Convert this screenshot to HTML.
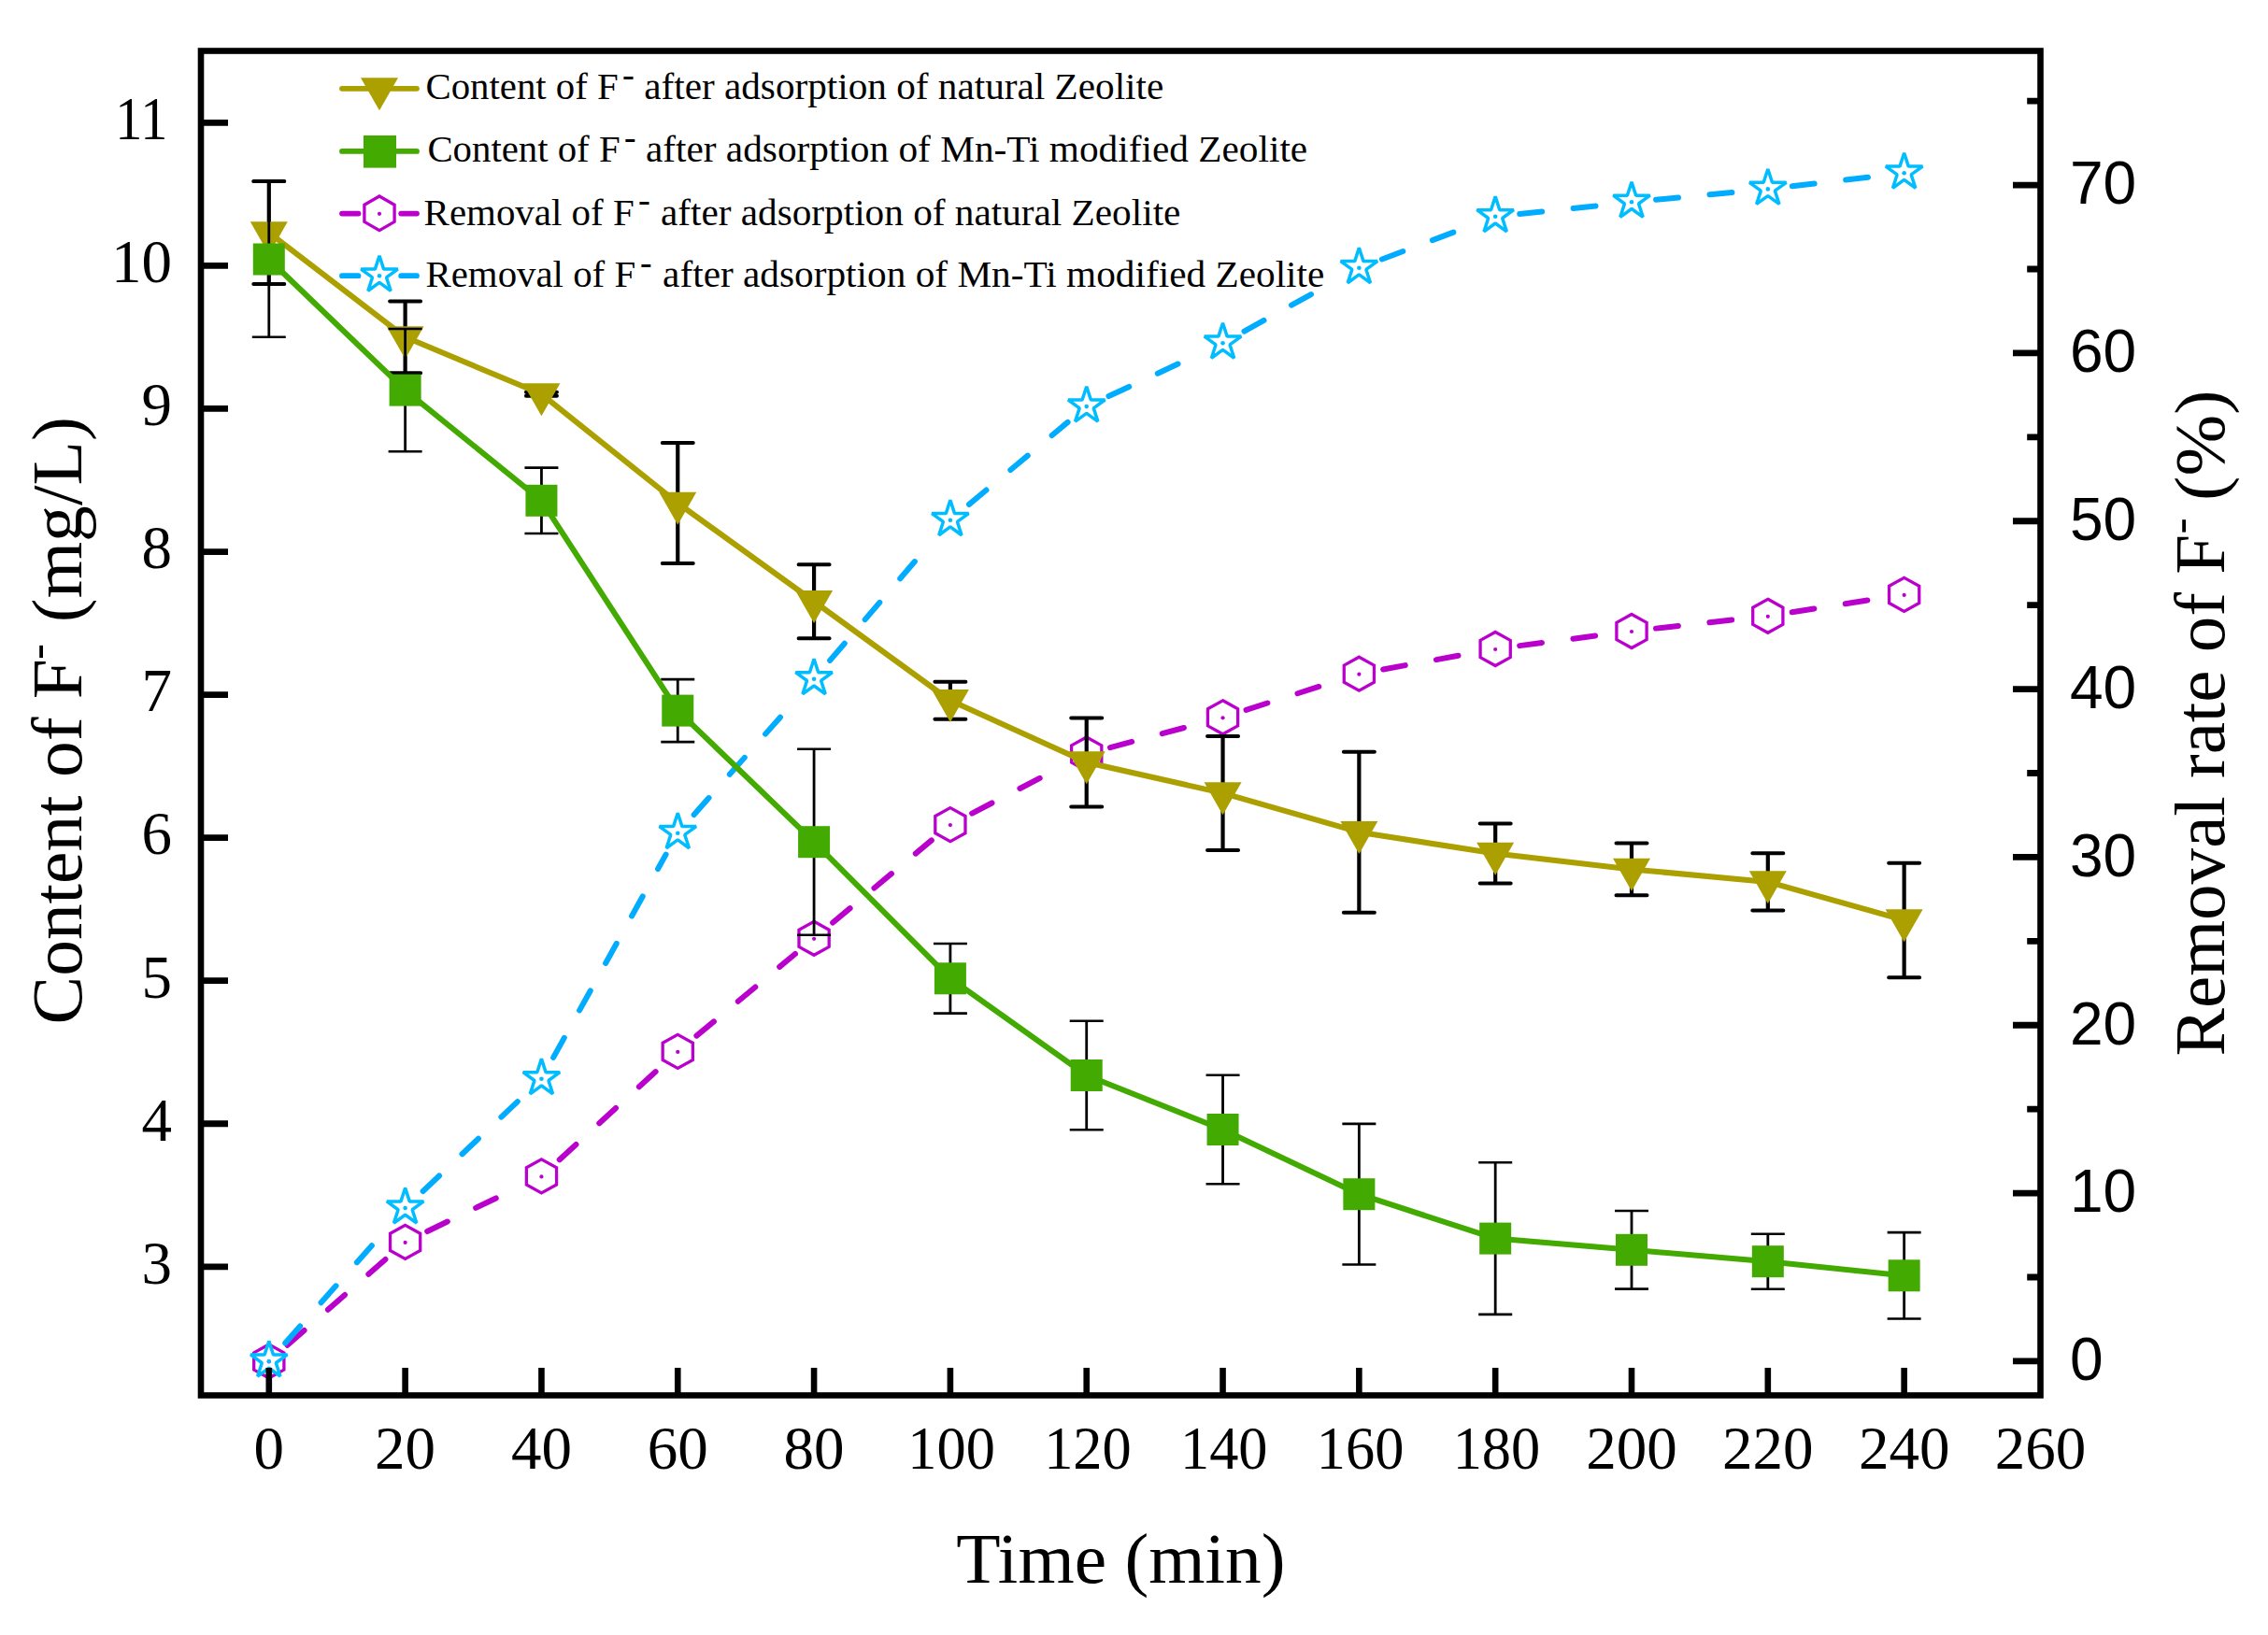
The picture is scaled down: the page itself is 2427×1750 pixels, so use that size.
<!DOCTYPE html>
<html lang="en">
<head>
<meta charset="utf-8">
<title>Fluoride adsorption on natural and Mn-Ti modified zeolite</title>
<style>html,body{margin:0;padding:0;background:#fff;overflow:hidden;width:2427px;height:1750px}svg{display:block}</style>
</head>
<body>
<svg width="2427" height="1750" viewBox="0 0 2427 1750">
<rect width="2427" height="1750" fill="#fff"/>
<g id="s3">
<path d="M307.52 1439.75L413.9 1346.65M457.21 1318L555.85 1270.3M598.76 1241.21L705.94 1143.09M745.42 1108.66L850.92 1021.04M891.19 987.51L996.79 899.39M1040.16 870.54L1139.46 819.06M1188.02 800.2L1283.24 774.6M1333.5 759.82L1429.4 729.18M1480.13 716.48L1574.41 699.22M1626.16 691.11L1720.02 678.89M1772.04 672.61L1865.78 662.19M1917.7 655.24L2011.76 640.46" fill="none" stroke="#BA00CC" stroke-width="6" stroke-linecap="round" stroke-dasharray="24 33.7"/>
<polygon points="287.8,1439 303.9,1447.9 303.9,1466.1 287.8,1475 271.7,1466.1 271.7,1447.9" fill="none" stroke="#BA00CC" stroke-width="3.3" stroke-linejoin="miter"/>
<circle cx="287.8" cy="1457.5" r="2.1" fill="#BA00CC"/>
<polygon points="433.62,1311.4 449.72,1320.3 449.72,1338.5 433.62,1347.4 417.52,1338.5 417.52,1320.3" fill="none" stroke="#BA00CC" stroke-width="3.3" stroke-linejoin="miter"/>
<circle cx="433.62" cy="1329.9" r="2.1" fill="#BA00CC"/>
<polygon points="579.44,1240.9 595.54,1249.8 595.54,1268 579.44,1276.9 563.34,1268 563.34,1249.8" fill="none" stroke="#BA00CC" stroke-width="3.3" stroke-linejoin="miter"/>
<circle cx="579.44" cy="1259.4" r="2.1" fill="#BA00CC"/>
<polygon points="725.26,1107.4 741.36,1116.3 741.36,1134.5 725.26,1143.4 709.16,1134.5 709.16,1116.3" fill="none" stroke="#BA00CC" stroke-width="3.3" stroke-linejoin="miter"/>
<circle cx="725.26" cy="1125.9" r="2.1" fill="#BA00CC"/>
<polygon points="871.08,986.3 887.18,995.2 887.18,1013.4 871.08,1022.3 854.98,1013.4 854.98,995.2" fill="none" stroke="#BA00CC" stroke-width="3.3" stroke-linejoin="miter"/>
<circle cx="871.08" cy="1004.8" r="2.1" fill="#BA00CC"/>
<polygon points="1016.9,864.6 1033,873.5 1033,891.7 1016.9,900.6 1000.8,891.7 1000.8,873.5" fill="none" stroke="#BA00CC" stroke-width="3.3" stroke-linejoin="miter"/>
<circle cx="1016.9" cy="883.1" r="2.1" fill="#BA00CC"/>
<polygon points="1162.72,789 1178.82,797.9 1178.82,816.1 1162.72,825 1146.62,816.1 1146.62,797.9" fill="none" stroke="#BA00CC" stroke-width="3.3" stroke-linejoin="miter"/>
<circle cx="1162.72" cy="807.5" r="2.1" fill="#BA00CC"/>
<polygon points="1308.54,749.8 1324.64,758.7 1324.64,776.9 1308.54,785.8 1292.44,776.9 1292.44,758.7" fill="none" stroke="#BA00CC" stroke-width="3.3" stroke-linejoin="miter"/>
<circle cx="1308.54" cy="768.3" r="2.1" fill="#BA00CC"/>
<polygon points="1454.36,703.2 1470.46,712.1 1470.46,730.3 1454.36,739.2 1438.26,730.3 1438.26,712.1" fill="none" stroke="#BA00CC" stroke-width="3.3" stroke-linejoin="miter"/>
<circle cx="1454.36" cy="721.7" r="2.1" fill="#BA00CC"/>
<polygon points="1600.18,676.5 1616.28,685.4 1616.28,703.6 1600.18,712.5 1584.08,703.6 1584.08,685.4" fill="none" stroke="#BA00CC" stroke-width="3.3" stroke-linejoin="miter"/>
<circle cx="1600.18" cy="695" r="2.1" fill="#BA00CC"/>
<polygon points="1746,657.5 1762.1,666.4 1762.1,684.6 1746,693.5 1729.9,684.6 1729.9,666.4" fill="none" stroke="#BA00CC" stroke-width="3.3" stroke-linejoin="miter"/>
<circle cx="1746" cy="676" r="2.1" fill="#BA00CC"/>
<polygon points="1891.82,641.3 1907.92,650.2 1907.92,668.4 1891.82,677.3 1875.72,668.4 1875.72,650.2" fill="none" stroke="#BA00CC" stroke-width="3.3" stroke-linejoin="miter"/>
<circle cx="1891.82" cy="659.8" r="2.1" fill="#BA00CC"/>
<polygon points="2037.64,618.4 2053.74,627.3 2053.74,645.5 2037.64,654.4 2021.54,645.5 2021.54,627.3" fill="none" stroke="#BA00CC" stroke-width="3.3" stroke-linejoin="miter"/>
<circle cx="2037.64" cy="636.9" r="2.1" fill="#BA00CC"/>
</g>
<g id="s4">
<path d="M305.21 1437.42L416.21 1312.58M452.64 1274.98L560.42 1172.82M592.14 1131.88L712.56 914.62M742.62 872.07L853.72 746.43M888.13 706.91L999.85 576.59M1037.02 539.92L1142.6 451.88M1186.47 424.04L1284.79 378.26M1331.48 354.54L1431.42 299.36M1478.88 277.47L1575.66 241.03M1626.23 229.03L1719.95 219.07M1772.08 213.81L1865.74 204.89M1917.84 199.33L2011.62 188.27" fill="none" stroke="#00ACFF" stroke-width="6" stroke-linecap="round" stroke-dasharray="24 33.7"/>
<polygon points="287.8,1435.6 292.45,1449.9 307.49,1449.9 295.32,1458.74 299.97,1473.05 287.8,1464.21 275.63,1473.05 280.28,1458.74 268.11,1449.9 283.15,1449.9" fill="none" stroke="#00BDFF" stroke-width="3.5" stroke-linejoin="bevel"/>
<circle cx="287.8" cy="1457" r="2.3" fill="#00BDFF"/>
<polygon points="433.62,1271.6 438.27,1285.9 453.31,1285.9 441.14,1294.74 445.79,1309.05 433.62,1300.21 421.45,1309.05 426.1,1294.74 413.93,1285.9 428.97,1285.9" fill="none" stroke="#00BDFF" stroke-width="3.5" stroke-linejoin="bevel"/>
<circle cx="433.62" cy="1293" r="2.3" fill="#00BDFF"/>
<polygon points="579.44,1133.4 584.09,1147.7 599.13,1147.7 586.96,1156.54 591.61,1170.85 579.44,1162.01 567.27,1170.85 571.92,1156.54 559.75,1147.7 574.79,1147.7" fill="none" stroke="#00BDFF" stroke-width="3.5" stroke-linejoin="bevel"/>
<circle cx="579.44" cy="1154.8" r="2.3" fill="#00BDFF"/>
<polygon points="725.26,870.3 729.91,884.6 744.95,884.6 732.78,893.44 737.43,907.75 725.26,898.91 713.09,907.75 717.74,893.44 705.57,884.6 720.61,884.6" fill="none" stroke="#00BDFF" stroke-width="3.5" stroke-linejoin="bevel"/>
<circle cx="725.26" cy="891.7" r="2.3" fill="#00BDFF"/>
<polygon points="871.08,705.4 875.73,719.7 890.77,719.7 878.6,728.54 883.25,742.85 871.08,734.01 858.91,742.85 863.56,728.54 851.39,719.7 866.43,719.7" fill="none" stroke="#00BDFF" stroke-width="3.5" stroke-linejoin="bevel"/>
<circle cx="871.08" cy="726.8" r="2.3" fill="#00BDFF"/>
<polygon points="1016.9,535.3 1021.55,549.6 1036.59,549.6 1024.42,558.44 1029.07,572.75 1016.9,563.91 1004.73,572.75 1009.38,558.44 997.21,549.6 1012.25,549.6" fill="none" stroke="#00BDFF" stroke-width="3.5" stroke-linejoin="bevel"/>
<circle cx="1016.9" cy="556.7" r="2.3" fill="#00BDFF"/>
<polygon points="1162.72,413.7 1167.37,428 1182.41,428 1170.24,436.84 1174.89,451.15 1162.72,442.31 1150.55,451.15 1155.2,436.84 1143.03,428 1158.07,428" fill="none" stroke="#00BDFF" stroke-width="3.5" stroke-linejoin="bevel"/>
<circle cx="1162.72" cy="435.1" r="2.3" fill="#00BDFF"/>
<polygon points="1308.54,345.8 1313.19,360.1 1328.23,360.1 1316.06,368.94 1320.71,383.25 1308.54,374.41 1296.37,383.25 1301.02,368.94 1288.85,360.1 1303.89,360.1" fill="none" stroke="#00BDFF" stroke-width="3.5" stroke-linejoin="bevel"/>
<circle cx="1308.54" cy="367.2" r="2.3" fill="#00BDFF"/>
<polygon points="1454.36,265.3 1459.01,279.6 1474.05,279.6 1461.88,288.44 1466.53,302.75 1454.36,293.91 1442.19,302.75 1446.84,288.44 1434.67,279.6 1449.71,279.6" fill="none" stroke="#00BDFF" stroke-width="3.5" stroke-linejoin="bevel"/>
<circle cx="1454.36" cy="286.7" r="2.3" fill="#00BDFF"/>
<polygon points="1600.18,210.4 1604.83,224.7 1619.87,224.7 1607.7,233.54 1612.35,247.85 1600.18,239.01 1588.01,247.85 1592.66,233.54 1580.49,224.7 1595.53,224.7" fill="none" stroke="#00BDFF" stroke-width="3.5" stroke-linejoin="bevel"/>
<circle cx="1600.18" cy="231.8" r="2.3" fill="#00BDFF"/>
<polygon points="1746,194.9 1750.65,209.2 1765.69,209.2 1753.52,218.04 1758.17,232.35 1746,223.51 1733.83,232.35 1738.48,218.04 1726.31,209.2 1741.35,209.2" fill="none" stroke="#00BDFF" stroke-width="3.5" stroke-linejoin="bevel"/>
<circle cx="1746" cy="216.3" r="2.3" fill="#00BDFF"/>
<polygon points="1891.82,181 1896.47,195.3 1911.51,195.3 1899.34,204.14 1903.99,218.45 1891.82,209.61 1879.65,218.45 1884.3,204.14 1872.13,195.3 1887.17,195.3" fill="none" stroke="#00BDFF" stroke-width="3.5" stroke-linejoin="bevel"/>
<circle cx="1891.82" cy="202.4" r="2.3" fill="#00BDFF"/>
<polygon points="2037.64,163.8 2042.29,178.1 2057.33,178.1 2045.16,186.94 2049.81,201.25 2037.64,192.41 2025.47,201.25 2030.12,186.94 2017.95,178.1 2032.99,178.1" fill="none" stroke="#00BDFF" stroke-width="3.5" stroke-linejoin="bevel"/>
<circle cx="2037.64" cy="185.2" r="2.3" fill="#00BDFF"/>
</g>
<g id="s1">
<path d="M287.8 194V304M433.62 322.4V399.2M579.44 419.8V423.8M725.26 474V603M871.08 604.2V683.2M1016.9 729.7V769.7M1162.72 768.6V863.4M1308.54 787.9V909.9M1454.36 804.7V976.7M1600.18 881.4V945.6M1746 902.5V958.3M1891.82 913.3V974.5M2037.64 923.8V1046.2" fill="none" stroke="#000" stroke-width="4.2"/>
<path d="M271.3 194H304.3M271.3 304H304.3M417.12 322.4H450.12M417.12 399.2H450.12M562.94 419.8H595.94M562.94 423.8H595.94M708.76 474H741.76M708.76 603H741.76M854.58 604.2H887.58M854.58 683.2H887.58M1000.4 729.7H1033.4M1000.4 769.7H1033.4M1146.22 768.6H1179.22M1146.22 863.4H1179.22M1292.04 787.9H1325.04M1292.04 909.9H1325.04M1437.86 804.7H1470.86M1437.86 976.7H1470.86M1583.68 881.4H1616.68M1583.68 945.6H1616.68M1729.5 902.5H1762.5M1729.5 958.3H1762.5M1875.32 913.3H1908.32M1875.32 974.5H1908.32M2021.14 923.8H2054.14M2021.14 1046.2H2054.14" fill="none" stroke="#000" stroke-width="4" stroke-linecap="round"/>
<polyline points="287.8,249 433.62,360.8 579.44,421.8 725.26,538.5 871.08,643.7 1016.9,749.7 1162.72,816 1308.54,848.9 1454.36,890.7 1600.18,913.5 1746,930.4 1891.82,943.9 2037.64,985" fill="none" stroke="#ACA000" stroke-width="6" stroke-linejoin="round"/>
<polygon points="267.8,237.33 307.8,237.33 287.8,272.33" fill="#ACA000"/>
<polygon points="413.62,349.13 453.62,349.13 433.62,384.13" fill="#ACA000"/>
<polygon points="559.44,410.13 599.44,410.13 579.44,445.13" fill="#ACA000"/>
<polygon points="705.26,526.83 745.26,526.83 725.26,561.83" fill="#ACA000"/>
<polygon points="851.08,632.03 891.08,632.03 871.08,667.03" fill="#ACA000"/>
<polygon points="996.9,738.03 1036.9,738.03 1016.9,773.03" fill="#ACA000"/>
<polygon points="1142.72,804.33 1182.72,804.33 1162.72,839.33" fill="#ACA000"/>
<polygon points="1288.54,837.23 1328.54,837.23 1308.54,872.23" fill="#ACA000"/>
<polygon points="1434.36,879.03 1474.36,879.03 1454.36,914.03" fill="#ACA000"/>
<polygon points="1580.18,901.83 1620.18,901.83 1600.18,936.83" fill="#ACA000"/>
<polygon points="1726,918.73 1766,918.73 1746,953.73" fill="#ACA000"/>
<polygon points="1871.82,932.23 1911.82,932.23 1891.82,967.23" fill="#ACA000"/>
<polygon points="2017.64,973.33 2057.64,973.33 2037.64,1008.33" fill="#ACA000"/>
</g>
<g id="s2">
<path d="M287.8 194.2V360.8M433.62 352V483.2M579.44 500.6V571M725.26 727.1V794.1M871.08 801.7V1000.7M1016.9 1010V1084.6M1162.72 1092.7V1209.3M1308.54 1150.8V1267.2M1454.36 1202.9V1353.5M1600.18 1244.3V1406.9M1746 1295.95V1379.65M1891.82 1320.7V1379.7M2037.64 1319.1V1411.5" fill="none" stroke="#000" stroke-width="2.8"/>
<path d="M269.8 194.2H305.8M269.8 360.8H305.8M415.62 352H451.62M415.62 483.2H451.62M561.44 500.6H597.44M561.44 571H597.44M707.26 727.1H743.26M707.26 794.1H743.26M853.08 801.7H889.08M853.08 1000.7H889.08M998.9 1010H1034.9M998.9 1084.6H1034.9M1144.72 1092.7H1180.72M1144.72 1209.3H1180.72M1290.54 1150.8H1326.54M1290.54 1267.2H1326.54M1436.36 1202.9H1472.36M1436.36 1353.5H1472.36M1582.18 1244.3H1618.18M1582.18 1406.9H1618.18M1728 1295.95H1764M1728 1379.65H1764M1873.82 1320.7H1909.82M1873.82 1379.7H1909.82M2019.64 1319.1H2055.64M2019.64 1411.5H2055.64" fill="none" stroke="#000" stroke-width="2.6" stroke-linecap="butt"/>
<polyline points="287.8,277.5 433.62,417.6 579.44,535.8 725.26,760.6 871.08,901.2 1016.9,1047.3 1162.72,1151 1308.54,1209 1454.36,1278.2 1600.18,1325.6 1746,1337.8 1891.82,1350.2 2037.64,1365.3" fill="none" stroke="#42AA00" stroke-width="6" stroke-linejoin="round"/>
<rect x="270.8" y="260.5" width="34" height="34" fill="#42AA00"/>
<rect x="416.62" y="400.6" width="34" height="34" fill="#42AA00"/>
<rect x="562.44" y="518.8" width="34" height="34" fill="#42AA00"/>
<rect x="708.26" y="743.6" width="34" height="34" fill="#42AA00"/>
<rect x="854.08" y="884.2" width="34" height="34" fill="#42AA00"/>
<rect x="999.9" y="1030.3" width="34" height="34" fill="#42AA00"/>
<rect x="1145.72" y="1134" width="34" height="34" fill="#42AA00"/>
<rect x="1291.54" y="1192" width="34" height="34" fill="#42AA00"/>
<rect x="1437.36" y="1261.2" width="34" height="34" fill="#42AA00"/>
<rect x="1583.18" y="1308.6" width="34" height="34" fill="#42AA00"/>
<rect x="1729" y="1320.8" width="34" height="34" fill="#42AA00"/>
<rect x="1874.82" y="1333.2" width="34" height="34" fill="#42AA00"/>
<rect x="2020.64" y="1348.3" width="34" height="34" fill="#42AA00"/>
</g>
<g id="axes" stroke="#000" fill="none">
<rect x="215" y="54.5" width="1968.5" height="1439" stroke-width="6.6"/>
<path d="M215 1355.83H244M215 1202.77H244M215 1049.71H244M215 896.65H244M215 743.59H244M215 590.53H244M215 437.47H244M215 284.41H244M215 131.35H244" stroke-width="6.8"/>
<path d="M287.8 1493.5V1464M433.62 1493.5V1464M579.44 1493.5V1464M725.26 1493.5V1464M871.08 1493.5V1464M1016.9 1493.5V1464M1162.72 1493.5V1464M1308.54 1493.5V1464M1454.36 1493.5V1464M1600.18 1493.5V1464M1746 1493.5V1464M1891.82 1493.5V1464M2037.64 1493.5V1464" stroke-width="6.6"/>
<path d="M2183.5 1456.9H2154M2183.5 1277.07H2154M2183.5 1097.24H2154M2183.5 917.41H2154M2183.5 737.58H2154M2183.5 557.75H2154M2183.5 377.92H2154M2183.5 198.09H2154M2183.5 1366.99H2169.2M2183.5 1187.16H2169.2M2183.5 1007.33H2169.2M2183.5 827.5H2169.2M2183.5 647.67H2169.2M2183.5 467.84H2169.2M2183.5 288.01H2169.2M2183.5 108.17H2169.2" stroke-width="6.8"/>
</g>
<g id="ticklabels" fill="#000">
<g font-family="'Liberation Serif','Times New Roman',serif" font-size="65" text-anchor="end">
<text x="184" y="1373.63">3</text>
<text x="184" y="1220.57">4</text>
<text x="184" y="1067.51">5</text>
<text x="184" y="914.45">6</text>
<text x="184" y="761.39">7</text>
<text x="184" y="608.33">8</text>
<text x="184" y="455.27">9</text>
<text x="184" y="302.21">10</text>
<text x="179.3" y="149.15" textLength="56" lengthAdjust="spacingAndGlyphs">11</text>
</g>
<g font-family="'Liberation Serif','Times New Roman',serif" font-size="65" text-anchor="middle">
<text x="287.8" y="1572.2">0</text>
<text x="433.62" y="1572.2">20</text>
<text x="579.44" y="1572.2">40</text>
<text x="725.26" y="1572.2">60</text>
<text x="871.08" y="1572.2">80</text>
<text x="1018.1" y="1572.2" textLength="93.5" lengthAdjust="spacingAndGlyphs">100</text>
<text x="1163.92" y="1572.2" textLength="93.5" lengthAdjust="spacingAndGlyphs">120</text>
<text x="1309.74" y="1572.2" textLength="93.5" lengthAdjust="spacingAndGlyphs">140</text>
<text x="1455.56" y="1572.2" textLength="93.5" lengthAdjust="spacingAndGlyphs">160</text>
<text x="1601.38" y="1572.2" textLength="93.5" lengthAdjust="spacingAndGlyphs">180</text>
<text x="1746" y="1572.2">200</text>
<text x="1891.82" y="1572.2">220</text>
<text x="2037.64" y="1572.2">240</text>
<text x="2183.46" y="1572.2">260</text>
</g>
<g font-family="'Liberation Sans',Arial,sans-serif" font-size="64" text-anchor="start">
<text x="2215" y="1477.2">0</text>
<text x="2215" y="1297.37">10</text>
<text x="2215" y="1117.54">20</text>
<text x="2215" y="937.71">30</text>
<text x="2215" y="757.88">40</text>
<text x="2215" y="578.05">50</text>
<text x="2215" y="398.22">60</text>
<text x="2215" y="218.39">70</text>
</g>
</g>
<g id="titles" fill="#000" font-family="'Liberation Serif','Times New Roman',serif" font-size="77">
<text x="1199.4" y="1693.8" text-anchor="middle" textLength="352.3" lengthAdjust="spacingAndGlyphs">Time (min)</text>
<text transform="translate(86.7 1096.4) rotate(-90)" textLength="391.2" lengthAdjust="spacingAndGlyphs">Content of F</text>
<text transform="translate(55.7 706) rotate(-90)" textLength="17" lengthAdjust="spacingAndGlyphs" font-size="50">-</text>
<text transform="translate(86.7 666.2) rotate(-90)" textLength="220.1" lengthAdjust="spacingAndGlyphs">(mg/L)</text>
<text transform="translate(2380.2 1130.4) rotate(-90)" textLength="558.4" lengthAdjust="spacingAndGlyphs">Removal rate of F</text>
<text transform="translate(2348.7 571.6) rotate(-90)" textLength="17.2" lengthAdjust="spacingAndGlyphs" font-size="50">-</text>
<text transform="translate(2380.2 535.9) rotate(-90)" textLength="118.4" lengthAdjust="spacingAndGlyphs">(%)</text>
</g>
<g id="legend">
<path d="M366 94.8H446" stroke="#ACA000" stroke-width="5.8" stroke-linecap="round"/>
<polygon points="386,83.13 426,83.13 406,118.13" fill="#ACA000"/>
<path d="M366 161.9H446" stroke="#42AA00" stroke-width="5.8" stroke-linecap="round"/>
<rect x="389" y="145" width="35" height="34.6" fill="#42AA00"/>
<path d="M366 228.6H383.5M429.2 228.6H446" stroke="#BA00CC" stroke-width="5.8" stroke-linecap="round"/>
<polygon points="406,210 422.1,219.2 422.1,237.4 406,246.6 389.9,237.4 389.9,219.2" fill="none" stroke="#BA00CC" stroke-width="3.3" stroke-linejoin="miter"/>
<circle cx="406" cy="228.8" r="2.1" fill="#BA00CC"/>
<path d="M366 295.2H383.5M429.2 295.2H446" stroke="#00ACFF" stroke-width="5.8" stroke-linecap="round"/>
<polygon points="406,273.8 410.65,288.1 425.69,288.1 413.52,296.94 418.17,311.25 406,302.41 393.83,311.25 398.48,296.94 386.31,288.1 401.35,288.1" fill="none" stroke="#00BDFF" stroke-width="3.5" stroke-linejoin="bevel"/>
<circle cx="406" cy="295.2" r="2.3" fill="#00BDFF"/>
<g fill="#000" font-family="'Liberation Serif','Times New Roman',serif" font-size="41">
<text x="455.5" y="106.2" textLength="206.2" lengthAdjust="spacingAndGlyphs">Content of F</text>
<text x="666.1" y="91.6" font-size="36" font-weight="bold" textLength="12.9" lengthAdjust="spacingAndGlyphs">-</text>
<text x="689.2" y="106.2" textLength="556.1" lengthAdjust="spacingAndGlyphs">after adsorption of natural Zeolite</text>
<text x="457.4" y="173.3" textLength="206.2" lengthAdjust="spacingAndGlyphs">Content of F</text>
<text x="668" y="158.7" font-size="36" font-weight="bold" textLength="12.6" lengthAdjust="spacingAndGlyphs">-</text>
<text x="690.9" y="173.3" textLength="708.3" lengthAdjust="spacingAndGlyphs">after adsorption of Mn-Ti modified Zeolite</text>
<text x="453.6" y="240.7" textLength="225.1" lengthAdjust="spacingAndGlyphs">Removal of F</text>
<text x="683.1" y="226.1" font-size="36" font-weight="bold" textLength="12.9" lengthAdjust="spacingAndGlyphs">-</text>
<text x="706.9" y="240.7" textLength="556.5" lengthAdjust="spacingAndGlyphs">after adsorption of natural Zeolite</text>
<text x="455.5" y="307.4" textLength="224.6" lengthAdjust="spacingAndGlyphs">Removal of F</text>
<text x="685" y="292.8" font-size="36" font-weight="bold" textLength="12.6" lengthAdjust="spacingAndGlyphs">-</text>
<text x="709.1" y="307.4" textLength="708.3" lengthAdjust="spacingAndGlyphs">after adsorption of Mn-Ti modified Zeolite</text>
</g>
</g>
</svg>
</body>
</html>
